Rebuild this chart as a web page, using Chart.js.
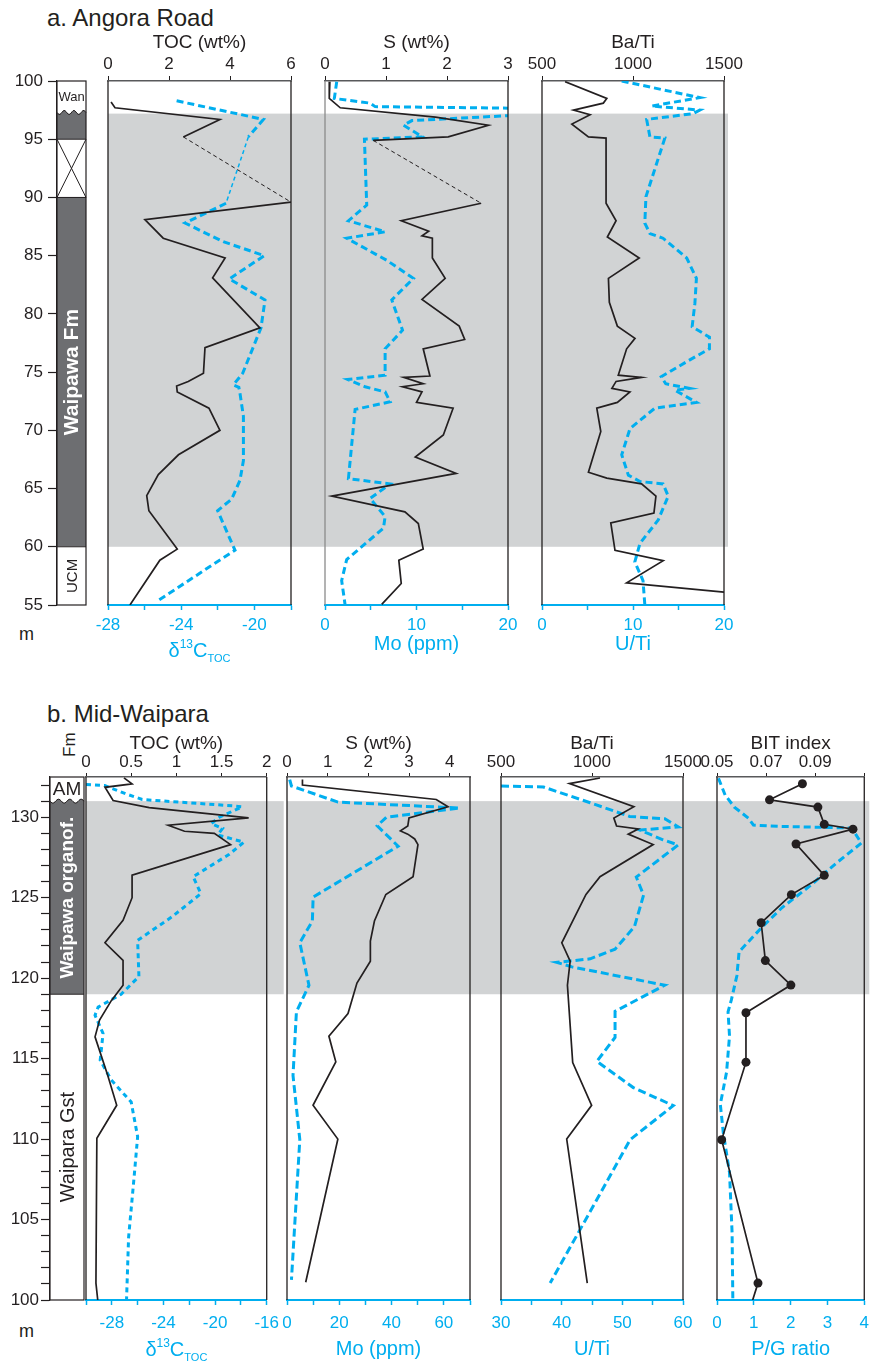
<!DOCTYPE html>
<html>
<head>
<meta charset="utf-8">
<script src="https://cdn.jsdelivr.net/npm/chart.js@4.4.0/dist/chart.umd.min.js"></script>
<style>
  body { margin: 0; background: #fff; }
  #page { position: relative; width: 877px; height: 1364px; overflow: hidden; background: #fff;
          font-family: 'Liberation Sans', Arial, sans-serif; color: #231f20; }
  #page canvas { position: absolute; }
  .lbl { position: absolute; white-space: nowrap; line-height: 1; }
</style>
</head>
<body>
<div id="page">
  <div class="lbl" style="left:47px;top:6px;font-size:24px">a. Angora Road</div>
  <div class="lbl" style="left:47px;top:702px;font-size:24px">b. Mid-Waipara</div>
  <div class="lbl" style="left:19px;top:625px;font-size:18px">m</div>
  <div class="lbl" style="left:19px;top:1322px;font-size:18px">m</div>
  <div class="lbl" style="left:61px;top:757px;font-size:17px;transform:rotate(-90deg);transform-origin:left top">Fm</div>
</div>
<script>
// ---- a. Angora Road ----
const aTocDepth = [98.2, 97.7, 96.7, 95.2, 89.6, 88.1, 86.5, 84.8, 83.1, 78.8, 77.1, 74.9, 74.2, 73.8, 73.3, 71.9, 70.0, 67.9, 66.2, 64.4, 63.1, 59.8, 58.85, 55.0];
const aToc = [0.10, 0.23, 3.67, 2.47, 6.0, 1.21, 1.81, 3.84, 3.43, 4.98, 3.18, 3.13, 2.63, 2.25, 2.27, 3.31, 3.67, 2.31, 1.65, 1.27, 1.34, 2.27, 1.70, 0.72];
const aD13Depth = [98.3, 96.7, 95.2, 89.5, 87.8, 86.2, 85.0, 83.0, 81.2, 78.8, 74.9, 73.9, 73.7, 73.2, 71.2, 67.4, 65.7, 64.1, 63.1, 59.7, 58.3, 55.3];
const aD13 = [-24.25, -19.51, -20.33, -21.55, -23.79, -21.7, -19.46, -21.37, -19.42, -19.64, -20.64, -21.15, -20.85, -20.79, -20.6, -20.6, -20.79, -21.24, -22.01, -21.06, -22.43, -25.34];
const aSDepth = [99.94, 98.5, 97.7, 96.9, 96.2, 95.2, 94.9, 89.5, 88.0, 87.1, 86.7, 86.5, 84.8, 83.05, 81.25, 78.95, 77.8, 77.0, 74.66, 74.55, 74.0, 73.74, 73.3, 72.4, 71.9, 69.6, 67.7, 66.3, 64.35, 63.0, 62.0, 59.8, 58.85, 56.85, 55.05];
const aS = [0.08, 0.07, 0.25, 1.81, 2.68, 2.02, 0.79, 2.56, 1.25, 1.70, 1.59, 1.76, 1.76, 1.97, 1.59, 2.20, 2.29, 1.61, 1.72, 1.29, 1.61, 1.27, 1.59, 1.50, 2.10, 1.94, 1.48, 2.15, 0.11, 1.31, 1.53, 1.61, 1.21, 1.25, 0.93];
const aMoDepth = [99.94, 98.5, 98.1, 97.8, 97.65, 97.1, 96.6, 96.2, 95.2, 95.0, 89.35, 88.0, 87.05, 86.5, 84.6, 83.05, 81.2, 78.6, 77.0, 74.74, 74.37, 73.74, 73.3, 72.45, 71.8, 65.85, 65.4, 64.15, 62.6, 61.6, 58.9, 57.1, 55.05];
const aMo = [1.28, 1.02, 4.93, 5.48, 22, 22, 9.5, 8.58, 10.66, 4.31, 4.56, 2.56, 6.57, 2.37, 6.75, 9.67, 7.30, 8.47, 6.57, 6.57, 2.48, 4.38, 6.57, 7.12, 3.29, 2.56, 7.12, 4.93, 6.57, 6.39, 2.37, 1.82, 2.19];
const aBaDepth = [99.94, 98.5, 98.1, 97.5, 97.1, 96.3, 95.2, 95.1, 89.5, 88.0, 86.6, 84.8, 83.05, 81.0, 78.95, 77.9, 77.0, 74.74, 74.55, 74.2, 73.6, 73.3, 72.4, 71.9, 69.9, 66.4, 65.9, 65.4, 64.35, 62.9, 62.05, 59.7, 58.8, 56.9, 56.1];
const aBa = [627, 856, 837, 673, 764, 664, 755, 852, 852, 907, 859, 1034, 865, 870, 914, 1011, 965, 919, 1047, 907, 884, 983, 914, 801, 823, 755, 856, 1047, 1126, 1115, 878, 901, 1166, 965, 1500];
const aUDepth = [100.0, 98.57, 97.85, 97.5, 97.2, 96.7, 95.2, 95.1, 90.06, 87.8, 86.9, 86.5, 84.8, 83.05, 80.9, 78.9, 78.0, 77.0, 75.9, 74.6, 74.0, 73.6, 73.45, 72.4, 71.9, 70.15, 67.9, 66.15, 65.6, 65.4, 64.35, 62.3, 60.3, 58.7, 57.1, 55.0];
const aU = [8.76, 17.34, 12.05, 17.34, 16.6, 11.5, 11.86, 13.5, 11.42, 11.3, 11.86, 13.3, 15.9, 16.97, 16.8, 16.5, 18.4, 18.4, 15.9, 13.1, 13.6, 16.2, 14.6, 16.97, 12.4, 9.67, 8.76, 9.49, 10.77, 13.3, 13.87, 12.77, 10.77, 10.2, 11.1, 11.3];
const aEvent = [97.2, 60];
const aHiatus = [95, 90];
const aUnitLabel = ['Wan', '', '', 'Waipawa Fm', 'UCM'];
const aUnitKind = ['clastic', 'organic', 'hiatus', 'organic', 'clastic'];
const aUnitTop = [100, 97.3, 95, 90, 60];
const aUnitBase = [97.3, 95, 90, 60, 55];

// ---- b. Mid-Waipara ----
const bTocDepth = [132.45, 132.07, 131.86, 131.04, 130.6, 129.96, 129.5, 129.13, 129.0, 128.3, 126.4, 125.0, 123.6, 122.2, 121.1, 119.56, 118.6, 117.4, 116.35, 113.97, 112.1, 110.05, 101.05, 100.0];
const bToc = [0.42, 0.51, 0.21, 0.30, 0.70, 1.80, 0.91, 1.09, 1.42, 1.60, 0.51, 0.51, 0.41, 0.21, 0.41, 0.41, 0.28, 0.15, 0.10, 0.24, 0.34, 0.12, 0.11, 0.13];
const bD13Depth = [132.03, 131.97, 131.45, 131.1, 130.7, 130.65, 130.0, 129.6, 129.3, 128.9, 128.45, 127.7, 126.3, 125.25, 123.8, 122.35, 120.1, 119.0, 118.2, 117.7, 116.56, 114.9, 113.67, 112.3, 110.15, 107.67, 103.9, 100.0];
const bD13 = [-30, -28.55, -26.9, -25.64, -18.53, -17.9, -19.67, -20.31, -19.42, -19.8, -17.77, -18.9, -21.7, -21.1, -23.36, -26.0, -25.9, -27.28, -29.06, -29.3, -28.68, -28.9, -28.04, -26.5, -26.0, -26.27, -26.7, -26.86];
const bSDepth = [132.34, 132.0, 131.1, 130.65, 129.95, 129.45, 129.15, 128.95, 128.65, 128.3, 126.3, 125.2, 123.55, 122.3, 121.05, 119.7, 117.8, 116.4, 114.8, 112.1, 110.0, 101.1];
const bS = [0.38, 0.38, 3.67, 3.96, 3.0, 2.97, 2.79, 2.97, 3.14, 3.22, 3.10, 2.43, 2.15, 2.05, 2.05, 1.72, 1.50, 1.03, 1.20, 0.64, 1.25, 0.46];
const bMoDepth = [132.34, 131.94, 130.94, 130.57, 130.0, 129.47, 128.2, 125.04, 123.55, 122.2, 119.56, 117.9, 113.95, 109.97, 101.25];
const bMo = [1.03, 1.7, 19.5, 66.1, 38.0, 34.5, 42.5, 10.0, 9.7, 4.9, 8.4, 3.6, 2.3, 4.9, 1.7];
const bBaDepth = [132.44, 132.09, 130.65, 129.95, 129.45, 129.27, 128.95, 128.3, 126.3, 125.2, 122.2, 121.05, 119.56, 114.75, 112.1, 110.0, 101.05];
const bBa = [1044, 876, 1230, 1120, 1135, 1254, 1199, 1336, 1044, 967, 834, 880, 865, 894, 998, 861, 974];
const bUDepth = [131.94, 131.88, 131.6, 130.9, 130.05, 129.9, 129.4, 129.2, 128.6, 128.28, 126.28, 125.16, 123.2, 121.8, 121.2, 120.98, 120.7, 119.56, 117.94, 116.32, 114.83, 113.2, 112.08, 109.97, 105.5, 101.05];
const bU = [30, 37.0, 39.2, 44.7, 51.2, 57.0, 59.2, 52.9, 56.7, 59.2, 52.3, 53.5, 52.0, 48.8, 44.7, 39.2, 41.7, 57.0, 48.8, 48.8, 45.8, 51.8, 58.4, 51.3, 44.7, 38.1];
const bBitDepth = [132.08, 131.08, 130.63, 129.56, 129.26, 128.34, 126.39, 125.19, 123.44, 121.09, 119.57, 117.85, 114.78, 109.96, 101.05, 99.5];
const bBit = [0.0848, 0.0714, 0.0911, 0.0937, 0.1054, 0.0822, 0.0937, 0.0803, 0.0680, 0.0697, 0.0801, 0.0618, 0.0618, 0.0519, 0.0667, 0.0635];
const bPgDepth = [132.42, 131.38, 130.63, 129.93, 129.51, 129.43, 129.33, 128.39, 127.13, 125.76, 124.39, 123.14, 121.64, 120.15, 118.65, 117.9, 116.4, 114.16, 112.16, 110.41, 107.92, 104.17, 100.0];
const bPg = [0.04, 0.22, 0.47, 0.86, 0.99, 1.68, 3.66, 3.92, 3.23, 2.54, 1.77, 1.21, 0.60, 0.54, 0.39, 0.30, 0.34, 0.26, 0.09, 0.17, 0.34, 0.41, 0.43];
const bEvent = [131, 119];
const bUnitLabel = ['AM', 'Waipawa organof.', 'Waipara Gst'];
const bUnitKind = ['clastic', 'organic', 'clastic'];
const bUnitTop = [132.5, 131, 119];
const bUnitBase = [131, 119, 100];

// ---- drawing ----
const FONT = "'Liberation Sans', Arial, sans-serif";
const INK = '#231f20', BLUE = '#00aeef', SHADE = '#d1d3d4', DARK = '#6d6e71', RULE = '#58595b';
Chart.defaults.font.family = FONT;
Chart.defaults.font.size = 17;
Chart.defaults.color = INK;

const unitFont = {'Wan': '13px', 'UCM': '15px', 'Waipawa Fm': 'bold 21px', 'AM': '19px', 'Waipawa organof.': 'bold 19px', 'Waipara Gst': '20px'};

const secA = {top: 81, bottom: 605, min: 55, max: 100, step: 5, band: aEvent, tickSize: 17,
  topH: 56, titlePad: 6, topTick: 5, topTickPad: 1, botH: 60, botTickPad: 5, botTitlePad: 9,
  deltaBase: 52, yTick: 9, yPad: 5};
const secB = {top: 777, bottom: 1300, min: 100, max: 132.5, step: 1, band: bEvent, tickSize: 17,
  topH: 56, titlePad: 11, topTick: 4, topTickPad: 0, botH: 62, botTickPad: 8, botTitlePad: 1,
  deltaBase: 56, yTick: 9, yPad: 2};

const page = document.getElementById('page');
function makeCanvas(x, y, w, h) {
  const cv = document.createElement('canvas');
  cv.width = w; cv.height = h;
  cv.style.left = x + 'px'; cv.style.top = y + 'px';
  cv.style.width = w + 'px'; cv.style.height = h + 'px';
  page.appendChild(cv);
  return cv;
}

// grey event band behind the profiles, carried across the gap to the next panel
function shade(range, reach) {
  return {
    id: 'shade',
    beforeDatasetsDraw(chart) {
      const {ctx, chartArea: a, scales: {y}} = chart;
      const y0 = y.getPixelForValue(range[0]), y1 = y.getPixelForValue(range[1]);
      ctx.save();
      ctx.fillStyle = SHADE;
      ctx.fillRect(a.left, y0, a.width + reach, y1 - y0);
      ctx.restore();
    }
  };
}

function frame(edge) {
  return {
    id: 'frame',
    afterDatasetsDraw(chart) {
      const {ctx, chartArea: a} = chart;
      ctx.save();
      ctx.lineWidth = 1.3;
      [[a.left, edge[0]], [a.right, edge[1]]].forEach(([x, c]) => {
        ctx.strokeStyle = c;
        ctx.beginPath(); ctx.moveTo(x, a.top); ctx.lineTo(x, a.bottom); ctx.stroke();
      });
      ctx.restore();
    }
  };
}

// d13C_TOC axis title with super- and subscript
function deltaTitle(base) {
  return {
    id: 'deltaTitle',
    afterDraw(chart) {
      const s = chart.scales.bot, ctx = chart.ctx;
      const parts = [['\u03b4', 20, 0], ['13', 12, -9], ['C', 20, 0], ['TOC', 11, 5]];
      ctx.save();
      ctx.fillStyle = BLUE;
      ctx.textBaseline = 'alphabetic';
      ctx.textAlign = 'left';
      let total = 0;
      parts.forEach(p => { ctx.font = p[1] + 'px ' + FONT; total += ctx.measureText(p[0]).width; });
      let x = (s.left + s.right) / 2 - total / 2;
      const y = chart.chartArea.bottom + base;
      parts.forEach(p => {
        ctx.font = p[1] + 'px ' + FONT;
        ctx.fillText(p[0], x, y + p[2]);
        x += ctx.measureText(p[0]).width;
      });
      ctx.restore();
    }
  };
}

function topAxis(sec, a) {
  return {
    type: 'linear', axis: 'x', position: 'top', min: a.min, max: a.max,
    ticks: {stepSize: a.step, includeBounds: false, autoSkip: false, maxRotation: 0, color: INK,
      font: {size: sec.tickSize}, padding: sec.topTickPad, callback: a.label || (v => String(v))},
    grid: {drawOnChartArea: false, tickLength: sec.topTick, color: INK, tickWidth: 1},
    border: {color: RULE, width: 1.5},
    title: {display: true, text: a.title, color: INK, font: {size: 19}, padding: {top: sec.titlePad, bottom: 0}},
    afterFit: s => { s.height = sec.topH; }
  };
}

function botAxis(sec, a) {
  return {
    type: 'linear', axis: 'x', position: 'bottom', min: a.min, max: a.max,
    ticks: {stepSize: a.step, includeBounds: false, autoSkip: false, maxRotation: 0, color: BLUE,
      font: {size: sec.tickSize}, padding: sec.botTickPad, callback: a.label || (v => String(v))},
    grid: {drawOnChartArea: false, tickLength: 5, color: BLUE, tickWidth: 1.5},
    border: {color: BLUE, width: 2},
    title: {display: !a.delta, text: a.title || '', color: BLUE, font: {size: 20}, padding: {top: 0, bottom: sec.botTitlePad}},
    afterFit: s => { s.height = sec.botH; }
  };
}

function line(s) {
  const solid = s.axis === 'top';
  const ds = {
    data: s.depth.map((d, i) => ({x: s.vals[i], y: d})),
    xAxisID: s.axis, yAxisID: 'y',
    borderColor: solid ? INK : BLUE,
    borderWidth: solid ? 1.7 : 3,
    borderDash: solid ? [] : (s.dash || [7, 4]),
    pointRadius: s.dots ? 4.5 : 0,
    pointBackgroundColor: INK, pointBorderColor: INK, pointBorderWidth: 0,
    tension: 0, fill: false
  };
  if (s.bridge) {
    // samples either side of the missing interval are joined by a thin dashed line
    const across = c => c.p0.parsed.y > s.bridge[0] - 1 && c.p1.parsed.y < s.bridge[1] + 1;
    ds.segment = {
      borderDash: c => across(c) ? [4, 3] : undefined,
      borderWidth: c => across(c) ? (solid ? 1 : 1.5) : undefined
    };
  }
  return ds;
}

function panel(sec, left, right, gap, spec) {
  const padL = 22;
  const w = right - left + padL + gap;
  const h = sec.bottom - sec.top + sec.topH + sec.botH;
  const cv = makeCanvas(left - padL, sec.top - sec.topH, w, h);
  const extra = [shade(sec.band, spec.reach == null ? gap : spec.reach), frame(spec.edge || [INK, INK])];
  if (spec.bot.delta) extra.push(deltaTitle(sec.deltaBase));
  return new Chart(cv, {
    type: 'line',
    data: {datasets: spec.series.map(line)},
    options: {
      responsive: false, animation: false, devicePixelRatio: 1, indexAxis: 'y',
      layout: {padding: {left: padL, right: gap, top: 0, bottom: 0}},
      plugins: {legend: {display: false}, tooltip: {enabled: false}},
      scales: {
        y: {type: 'linear', display: false, min: sec.min, max: sec.max},
        top: topAxis(sec, spec.top),
        bot: botAxis(sec, spec.bot)
      }
    },
    plugins: extra
  });
}

// lithology column: units are floating bars, boundaries/labels drawn on top
function lithoMarks(u) {
  return {
    id: 'lithoMarks',
    afterDatasetsDraw(chart) {
      const {ctx, chartArea: a, scales: {y}} = chart;
      const fillOf = k => k === 'organic' ? DARK : '#ffffff';
      ctx.save();
      ctx.strokeStyle = INK;
      ctx.lineWidth = 1;
      u.top.forEach((t, i) => {
        if (i === 0) return;
        const py = y.getPixelForValue(t);
        if (u.kind[i - 1] === 'clastic' && u.kind[i] === 'organic' && i === 1) {
          // erosive contact: wavy line
          const wave = [];
          for (let x = a.left; x <= a.right; x++) wave.push([x, py + 2 * Math.sin((x - a.left) / a.width * Math.PI * 6)]);
          const patch = (c, dy) => {
            ctx.fillStyle = c; ctx.beginPath();
            wave.forEach(([x, yy], k) => k ? ctx.lineTo(x, yy) : ctx.moveTo(x, yy));
            ctx.lineTo(a.right, py + dy); ctx.lineTo(a.left, py + dy); ctx.closePath(); ctx.fill();
          };
          patch(fillOf(u.kind[i - 1]), -3);
          patch(fillOf(u.kind[i]), 3);
          ctx.beginPath();
          wave.forEach(([x, yy], k) => k ? ctx.lineTo(x, yy) : ctx.moveTo(x, yy));
          ctx.stroke();
        } else {
          ctx.beginPath(); ctx.moveTo(a.left, py); ctx.lineTo(a.right, py); ctx.stroke();
        }
      });
      u.kind.forEach((k, i) => {
        if (k !== 'hiatus') return;
        const y0 = y.getPixelForValue(u.top[i]), y1 = y.getPixelForValue(u.base[i]);
        ctx.beginPath();
        ctx.moveTo(a.left, y0); ctx.lineTo(a.right, y1);
        ctx.moveTo(a.right, y0); ctx.lineTo(a.left, y1);
        ctx.stroke();
      });
      ctx.lineWidth = 1.2;
      ctx.strokeRect(a.left, a.top, a.width, a.height);
      ctx.textAlign = 'center';
      ctx.textBaseline = 'middle';
      u.label.forEach((txt, i) => {
        if (!txt) return;
        const y0 = y.getPixelForValue(u.top[i]), y1 = y.getPixelForValue(u.base[i]);
        const dark = u.kind[i] === 'organic';
        ctx.fillStyle = dark ? '#ffffff' : INK;
        ctx.font = unitFont[txt] + ' ' + FONT;
        ctx.save();
        ctx.translate((a.left + a.right) / 2, (y0 + y1) / 2);
        if (y1 - y0 > 50) ctx.rotate(-Math.PI / 2);
        ctx.fillText(txt, 0, 1);
        ctx.restore();
      });
      ctx.restore();
    }
  };
}

function litho(sec, left, right, u) {
  // padding larger than half a tick label plus tick padding, so the plot area sits exactly at sec.top
  const padT = 20;
  const cv = makeCanvas(0, sec.top - padT, right + 4, sec.bottom - sec.top + 2 * padT);
  return new Chart(cv, {
    type: 'bar',
    data: {
      labels: ['column'],
      datasets: [{
        data: u.top.map((t, i) => ({x: 'column', y: [u.base[i], t]})),
        backgroundColor: u.kind.map(k => k === 'organic' ? DARK : '#ffffff'),
        borderWidth: 0, barPercentage: 1, categoryPercentage: 1
      }]
    },
    options: {
      responsive: false, animation: false, devicePixelRatio: 1,
      layout: {padding: {left: 0, right: 4, top: padT, bottom: padT}},
      plugins: {legend: {display: false}, tooltip: {enabled: false}},
      scales: {
        x: {display: false},
        y: {
          type: 'linear', position: 'left', min: sec.min, max: sec.max,
          ticks: {stepSize: sec.step, includeBounds: false, autoSkip: false, padding: sec.yPad, color: INK,
            callback: v => v % 5 === 0 ? String(v) : ''},
          grid: {drawOnChartArea: false, tickLength: sec.yTick, color: INK, tickWidth: 1.2},
          border: {color: INK, width: 1.2},
          afterFit: s => { s.width = left; }
        }
      }
    },
    plugins: [lithoMarks(u)]
  });
}

// ---- a. Angora Road ----
litho(secA, 57, 86, {label: aUnitLabel, kind: aUnitKind, top: aUnitTop, base: aUnitBase});
panel(secA, 108, 291, 34, {
  top: {min: 0, max: 6, step: 2, title: 'TOC (wt%)'},
  bot: {min: -28, max: -18, step: 2, delta: true, label: v => (v + 28) % 4 === 0 ? String(v) : ''},
  series: [
    {depth: aTocDepth, vals: aToc, axis: 'top', bridge: aHiatus},
    {depth: aD13Depth, vals: aD13, axis: 'bot', bridge: aHiatus}
  ]
});
panel(secA, 325, 508, 34, {
  top: {min: 0, max: 3, step: 1, title: 'S (wt%)'},
  bot: {min: 0, max: 20, step: 5, title: 'Mo (ppm)', label: v => v % 10 === 0 ? String(v) : ''},
  series: [
    {depth: aSDepth, vals: aS, axis: 'top', bridge: aHiatus},
    {depth: aMoDepth, vals: aMo, axis: 'bot'}
  ],
  edge: ['#8a8a8a', INK]
});
panel(secA, 542, 724, 40, {
  top: {min: 500, max: 1500, step: 500, title: 'Ba/Ti'},
  bot: {min: 0, max: 20, step: 5, title: 'U/Ti', label: v => v % 10 === 0 ? String(v) : ''},
  series: [
    {depth: aBaDepth, vals: aBa, axis: 'top'},
    {depth: aUDepth, vals: aU, axis: 'bot'}
  ],
  reach: 4
});

// ---- b. Mid-Waipara ----
litho(secB, 50, 84, {label: bUnitLabel, kind: bUnitKind, top: bUnitTop, base: bUnitBase});
panel(secB, 86, 270, 17, {
  top: {min: 0, max: 2, step: 0.5, title: 'TOC (wt%)'},
  bot: {min: -30, max: -16, step: 2, delta: true, label: v => (v + 28) % 4 === 0 ? String(v) : ''},
  series: [
    {depth: bTocDepth, vals: bToc, axis: 'top'},
    {depth: bD13Depth, vals: bD13, axis: 'bot', dash: [5, 4]}
  ]
});
panel(secB, 287, 470, 31, {
  top: {min: 0, max: 4.5, step: 1, title: 'S (wt%)'},
  bot: {min: 0, max: 70, step: 10, title: 'Mo (ppm)', label: v => v % 20 === 0 ? String(v) : ''},
  series: [
    {depth: bSDepth, vals: bS, axis: 'top'},
    {depth: bMoDepth, vals: bMo, axis: 'bot', dash: [8, 4]}
  ]
});
panel(secB, 501, 683, 34, {
  top: {min: 500, max: 1500, step: 500, title: 'Ba/Ti'},
  bot: {min: 30, max: 60, step: 5, title: 'U/Ti', label: v => v % 10 === 0 ? String(v) : ''},
  series: [
    {depth: bBaDepth, vals: bBa, axis: 'top'},
    {depth: bUDepth, vals: bU, axis: 'bot', dash: [8, 4]}
  ]
});
panel(secB, 717, 872, 5, {
  top: {min: 0.05, max: 0.11, step: 0.02, title: 'BIT index', label: v => v < 0.1 ? v.toFixed(2) : ''},
  bot: {min: 0, max: 4, step: 1, title: 'P/G ratio'},
  series: [
    {depth: bBitDepth, vals: bBit, axis: 'top', dots: true},
    {depth: bPgDepth, vals: bPg, axis: 'bot', dash: [7, 4]}
  ]
});
</script>
</body>
</html>
